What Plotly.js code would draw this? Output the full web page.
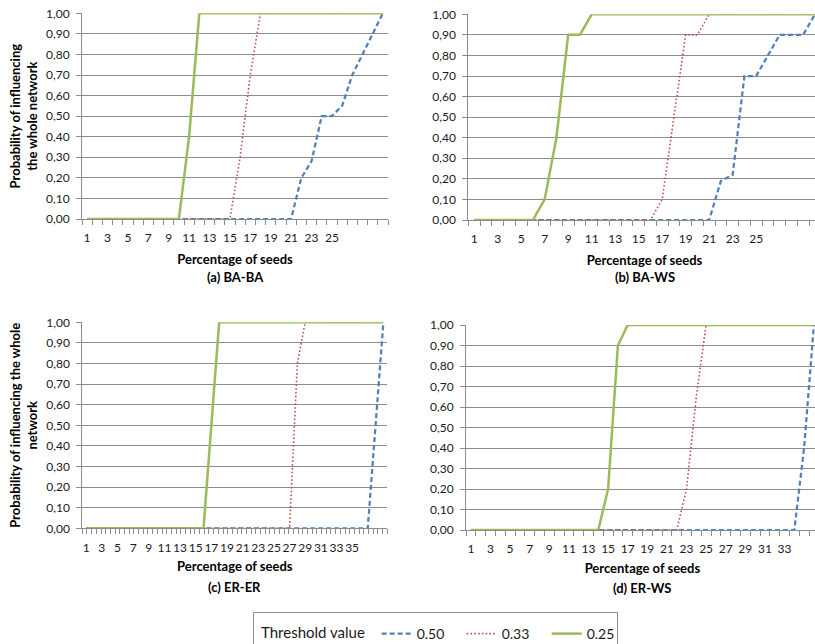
<!DOCTYPE html>
<html>
<head>
<meta charset="utf-8">
<script src="https://cdn.plot.ly/plotly-3.0.1.min.js"></script>
<style>
html, body { margin: 0; padding: 0; overflow: hidden; background: #fff; }
#chart { width: 822px; height: 644px; }
</style>
</head>
<body>
<div id="chart"></div>
<script>
// ---------- data ----------
// (a) BA-BA
const xA = [1,2,3,4,5,6,7,8,9,10,11,12,13,14,15,16,17,18,19,20,21,22,23,24,25,26,27,28,29,30];
const blueA  = [0,0,0,0,0,0,0,0,0,0, 0,0,0,0,0,0,0,0,0,0, 0,0.2,0.28,0.5,0.5,0.55,0.7,0.8,0.9,1.0];
const redA   = [0,0,0,0,0,0,0,0,0,0, 0,0,0,0,0,0.3,0.7,1,1,1, 1,1,1,1,1,1,1,1,1,1];
const greenA = [0,0,0,0,0,0,0,0,0,0, 0.4,1,1,1,1,1,1,1,1,1, 1,1,1,1,1,1,1,1,1,1];

// (b) BA-WS
const xB = [1,2,3,4,5,6,7,8,9,10,11,12,13,14,15,16,17,18,19,20,21,22,23,24,25,26,27,28,29,30];
const blueB  = [0,0,0,0,0,0,0,0,0,0, 0,0,0,0,0,0,0,0,0,0, 0,0.19,0.22,0.7,0.7,0.8,0.9,0.9,0.9,1.0];
const redB   = [0,0,0,0,0,0,0,0,0,0, 0,0,0,0,0,0,0.1,0.5,0.9,0.9, 1,1,1,1,1,1,1,1,1,1];
const greenB = [0,0,0,0,0,0,0.1,0.4,0.9,0.9, 1,1,1,1,1,1,1,1,1,1, 1,1,1,1,1,1,1,1,1,1];

// (c) ER-ER
const xC = [1,2,3,4,5,6,7,8,9,10,11,12,13,14,15,16,17,18,19,20,21,22,23,24,25,26,27,28,29,30,31,32,33,34,35,36,37,38,39];
const blueC  = [0,0,0,0,0,0,0,0,0,0, 0,0,0,0,0,0,0,0,0,0, 0,0,0,0,0,0,0,0,0,0, 0,0,0,0,0,0,0,0.5,1];
const redC   = [0,0,0,0,0,0,0,0,0,0, 0,0,0,0,0,0,0,0,0,0, 0,0,0,0,0,0,0,0.8,1,1, 1,1,1,1,1,1,1,1,1];
const greenC = [0,0,0,0,0,0,0,0,0,0, 0,0,0,0,0,0,0.5,1,1,1, 1,1,1,1,1,1,1,1,1,1, 1,1,1,1,1,1,1,1,1];

// (d) ER-WS
const xD = [1,2,3,4,5,6,7,8,9,10,11,12,13,14,15,16,17,18,19,20,21,22,23,24,25,26,27,28,29,30,31,32,33,34,35,36];
const blueD  = [0,0,0,0,0,0,0,0,0,0, 0,0,0,0,0,0,0,0,0,0, 0,0,0,0,0,0,0,0,0,0, 0,0,0,0,0.4,1];
const redD   = [0,0,0,0,0,0,0,0,0,0, 0,0,0,0,0,0,0,0,0,0, 0,0,0.2,0.65,1,1,1,1,1,1, 1,1,1,1,1,1];
const greenD = [0,0,0,0,0,0,0,0,0,0, 0,0,0,0,0.2,0.9,1,1,1,1, 1,1,1,1,1,1,1,1,1,1, 1,1,1,1,1,1];

// tick labels
const ticksAB = [1,3,5,7,9,11,13,15,17,19,21,23,25];
const ticksC  = [1,3,5,7,9,11,13,15,17,19,21,23,25,27,29,31,33,35];
const ticksD  = [1,3,5,7,9,11,13,15,17,19,21,23,25,27,29,31,33];

const seriesNames = ['0.50', '0.33', '0.25'];
const panelLabels = ['(a) BA-BA', '(b) BA-WS', '(c) ER-ER', '(d) ER-WS'];
const xTitle = 'Percentage of seeds';
const yTitleA = 'Probability of influencing<br>the whole network';
const yTitleC = 'Probability of influencing the whole<br>network';
const legendTitle = 'Threshold value';

// ---------- styles ----------
const W = 822, H = 644;
const FONT = 'Lato, Carlito, "Open Sans", sans-serif';
const GRID = '#8c8c8c';
const TXT = '#1a1a1a';
const styles = [
  {color: '#4F81BD', width: 2.25, dash: '5px,3px'},
  {color: '#C0504D', width: 1.6, dash: '1.6px,2.2px'},
  {color: '#9BBB59', width: 2.5, dash: 'solid'}
];

const panels = [
  {x: xA, ys: [blueA, redA, greenA], xa: 'x',  ya: 'y'},
  {x: xB, ys: [blueB, redB, greenB], xa: 'x2', ya: 'y2'},
  {x: xC, ys: [blueC, redC, greenC], xa: 'x3', ya: 'y3'},
  {x: xD, ys: [blueD, redD, greenD], xa: 'x4', ya: 'y4'}
];

const traces = [];
panels.forEach((p, pi) => {
  p.ys.forEach((y, si) => {
    traces.push({
      type: 'scatter', mode: 'lines',
      x: p.x, y: y, xaxis: p.xa, yaxis: p.ya,
      name: seriesNames[si], legendgroup: 's' + si,
      showlegend: pi === 0,
      cliponaxis: false,
      line: {color: styles[si].color, width: styles[si].width, dash: styles[si].dash}
    });
  });
});

function px2x(p) { return p / W; }
function px2y(p) { return 1 - p / H; }

function xaxis(left, right, range, tickvals, minorDtick, anchor, lblOff, titleOff) {
  return {
    domain: [px2x(left), px2x(right)], range: range, anchor: anchor, automargin: false,
    tickmode: 'array', tickvals: tickvals, ticks: '', tickangle: 0,
    showline: true, linecolor: GRID, linewidth: 1,
    showgrid: false, zeroline: false,
    minor: {ticks: 'outside', ticklen: 5, tickcolor: GRID, tickwidth: 1,
            tickmode: 'linear', tick0: 0.5, dtick: minorDtick, showgrid: false},
    ticklabelstandoff: lblOff,
    tickfont: {family: FONT, size: 12, color: TXT},
    title: {text: '<b>' + xTitle + '</b>', standoff: titleOff,
            font: {family: FONT, size: 13, color: '#000'}},
    fixedrange: true
  };
}
function yaxis(top, bottom, anchor, title) {
  return {
    domain: [px2y(bottom), px2y(top)], range: [0, 1], anchor: anchor, automargin: false,
    tickmode: 'linear', tick0: 0, dtick: 0.1, tickformat: '.2f',
    ticks: 'outside', ticklen: 5, tickcolor: GRID, tickwidth: 1,
    showline: true, linecolor: GRID, linewidth: 1,
    showgrid: true, gridcolor: GRID, gridwidth: 1, zeroline: false,
    ticklabelstandoff: 4,
    tickfont: {family: FONT, size: 12, color: TXT},
    title: title ? {text: '<b>' + title + '</b>', standoff: 5,
            font: {family: FONT, size: 13, color: '#000'}} : {text: ''},
    fixedrange: true
  };
}

const layout = {
  width: W, height: H,
  margin: {l: 0, r: 0, t: 0, b: 0, autoexpand: false},
  paper_bgcolor: '#fff', plot_bgcolor: '#fff',
  separators: ',.',
  font: {family: FONT, size: 12, color: TXT},
  showlegend: true,
  legend: {
    orientation: 'h', x: px2x(259), xanchor: 'left', y: px2y(634), yanchor: 'middle',
    borderwidth: 0, bgcolor: 'rgba(0,0,0,0)',
    font: {family: FONT, size: 14, color: TXT},
    entrywidth: 40, entrywidthmode: 'pixels',
    title: {text: legendTitle + ' ', side: 'left', font: {family: FONT, size: 15, color: TXT}},
    traceorder: 'normal'
  },
  shapes: [
    {type: 'rect', xref: 'paper', yref: 'paper', x0: px2x(253.5), x1: px2x(617.5), y0: px2y(660), y1: px2y(612.5),
     line: {color: '#8c8c8c', width: 1}, fillcolor: 'rgba(0,0,0,0)', layer: 'below'}
  ],
  xaxis:  xaxis(82, 388, [0.5, 30.5], ticksAB, 1, 'y', 8, 10),
  yaxis:  yaxis(13.3, 219, 'x', yTitleA),
  xaxis2: xaxis(468.3, 820.8, [0.5, 30.5], ticksAB, 1, 'y2', 8, 10),
  yaxis2: yaxis(14.3, 220, 'x2', null),
  xaxis3: xaxis(82.3, 387.3, [0.5, 39.5], ticksC, 0.6, 'y3', 8, 8),
  yaxis3: yaxis(322.3, 528.3, 'x3', yTitleC),
  xaxis4: xaxis(466, 818.8, [0.5, 36.5], ticksD, 1, 'y4', 8, 8),
  yaxis4: yaxis(325, 530, 'x4', null),
  annotations: [
    {text: '<b>' + panelLabels[0] + '</b>', xref: 'x domain', x: 0.5, yref: 'paper', y: px2y(277), yanchor: 'middle', showarrow: false, font: {family: FONT, size: 13, color: '#000'}},
    {text: '<b>' + panelLabels[1] + '</b>', xref: 'x2 domain', x: 0.5, yref: 'paper', y: px2y(277), yanchor: 'middle', showarrow: false, font: {family: FONT, size: 13, color: '#000'}},
    {text: '<b>' + panelLabels[2] + '</b>', xref: 'x3 domain', x: 0.5, yref: 'paper', y: px2y(587), yanchor: 'middle', showarrow: false, font: {family: FONT, size: 13, color: '#000'}},
    {text: '<b>' + panelLabels[3] + '</b>', xref: 'x4 domain', x: 0.5, yref: 'paper', y: px2y(588), yanchor: 'middle', showarrow: false, font: {family: FONT, size: 13, color: '#000'}}
  ]
};

Plotly.newPlot('chart', traces, layout, {displayModeBar: false, staticPlot: true});
</script>
</body>
</html>
